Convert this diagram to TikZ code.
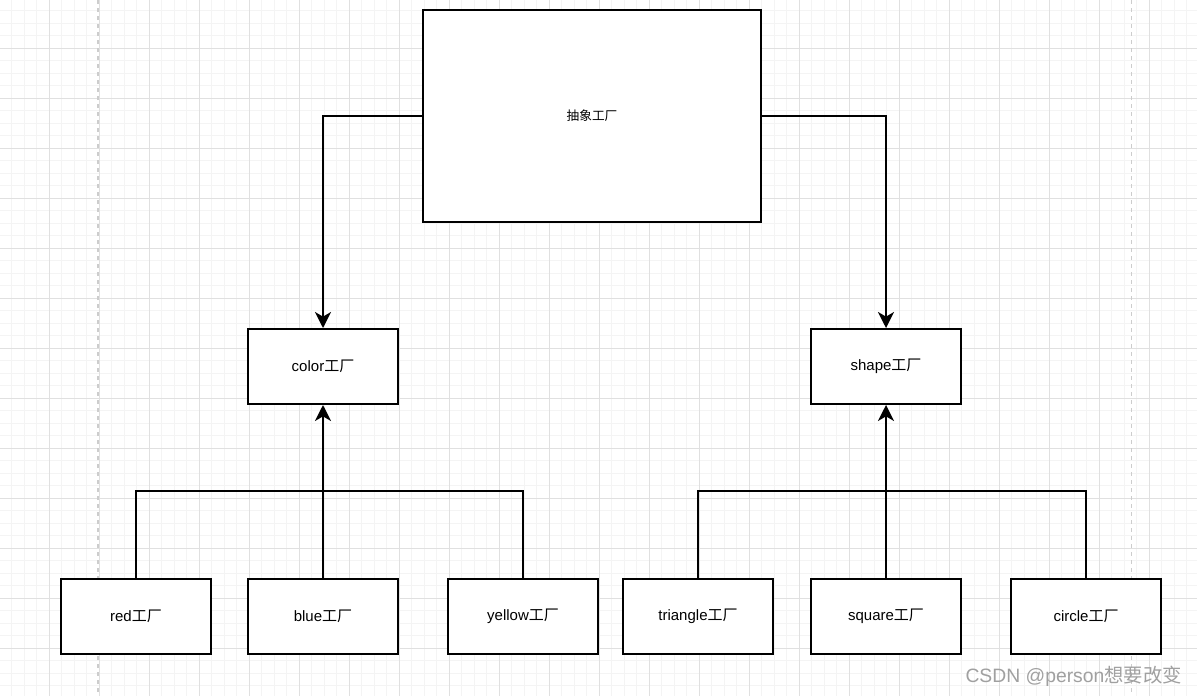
\documentclass[tikz,border=0pt]{standalone}
\usepackage{fontspec}
\setmainfont{Liberation Sans}
\newfontfamily\cjk{Noto Sans CJK SC}
\usetikzlibrary{arrows.meta}
\definecolor{minorgrid}{RGB}{244,244,244}
\definecolor{majorgrid}{RGB}{224,224,224}
\definecolor{pageline}{RGB}{205,205,205}
\definecolor{markgray}{RGB}{160,160,160}
\tikzset{
    factory/.style={draw, line width=1.5pt, fill=white, minimum width=112.5pt, minimum height=56.25pt, inner sep=0pt, font=\fontsize{11.25}{13}\selectfont},
    feed/.style={line width=1.5pt},
    feedarrow/.style={line width=1.5pt, -{Stealth[length=12pt, width=12pt, inset=3.5pt]}}
}
\begin{document}
\begin{tikzpicture}[x=0.75pt, y=-0.75pt]
    \useasboundingbox (0,0) rectangle (1197,696);
    \fill[white] (0,0) rectangle (1197,696);
    \begin{scope}
        \clip (0,0) rectangle (1197,696);
        \foreach \i in {0,...,96}
            \draw[minorgrid, line width=0.75pt] ({-0.7+12.5*\i},0) -- ++(0,696);
        \foreach \i in {0,...,56}
            \draw[minorgrid, line width=0.75pt] (0,{-1.7+12.5*\i}) -- ++(1197,0);
        \foreach \i in {0,...,24}
            \draw[majorgrid, line width=0.75pt] ({-0.7+50*\i},0) -- ++(0,696);
        \foreach \i in {0,...,14}
            \draw[majorgrid, line width=0.75pt] (0,{-1.7+50*\i}) -- ++(1197,0);
        \draw[pageline, line width=1pt, dash pattern=on 3pt off 3pt] (98,0) -- (98,696);
        \draw[pageline, line width=1pt, dash pattern=on 3pt off 3pt] (1131.5,0) -- (1131.5,696);
    \end{scope}

    \node[factory, minimum width=253.5pt, minimum height=159pt, font=\fontsize{9.5}{11}\selectfont] (abstract) at (592,116) {\cjk 抽象工厂};
    \node[factory] (color) at (323,366.5) {color{\cjk 工厂}};
    \node[factory] (shape) at (886,366.5) {shape{\cjk 工厂}};

    \node[factory] (red) at (136,616.5) {red{\cjk 工厂}};
    \node[factory] (blue) at (323,616.5) {blue{\cjk 工厂}};
    \node[factory] (yellow) at (523,616.5) {yellow{\cjk 工厂}};
    \node[factory] (triangle) at (698,616.5) {triangle{\cjk 工厂}};
    \node[factory] (square) at (886,616.5) {square{\cjk 工厂}};
    \node[factory] (circle) at (1086,616.5) {circle{\cjk 工厂}};

    \coordinate (colorbus) at (323,491);
    \coordinate (shapebus) at (886,491);

    \draw[feedarrow] (abstract.west) -| (color.north);
    \draw[feedarrow] (abstract.east) -| (shape.north);

    \draw[feed] (red.north) |- (colorbus);
    \draw[feed] (yellow.north) |- (colorbus);
    \draw[feedarrow] (blue.north) -- (color.south);

    \draw[feed] (triangle.north) |- (shapebus);
    \draw[feed] (circle.north) |- (shapebus);
    \draw[feedarrow] (square.north) -- (shape.south);

    \node[text=markgray, font=\fontsize{14.5}{17}\selectfont, anchor=east, inner sep=0pt] (watermark) at (1182,676) {CSDN @person{\cjk 想要改变}};
\end{tikzpicture}
\end{document}
